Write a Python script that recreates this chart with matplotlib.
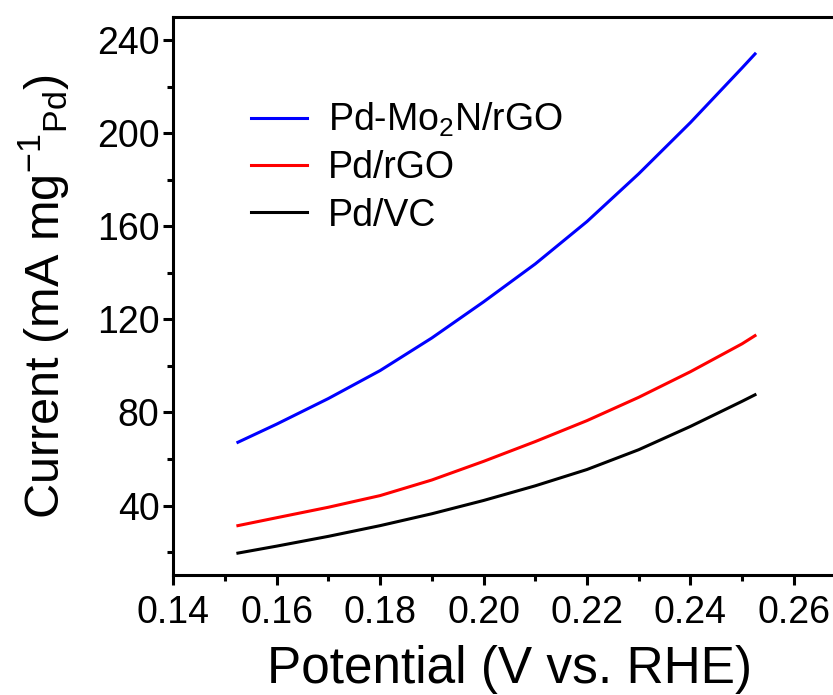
import matplotlib
matplotlib.use('Agg')
import matplotlib.pyplot as plt
from matplotlib.ticker import MultipleLocator

plt.rcParams['font.family'] = ['Liberation Sans', 'DejaVu Sans']
plt.rcParams['mathtext.fontset'] = 'custom'
plt.rcParams['mathtext.rm'] = 'Liberation Sans'
plt.rcParams['mathtext.it'] = 'Liberation Sans'
plt.rcParams['mathtext.default'] = 'regular'

# potential (V vs. RHE)
potential = [0.1525, 0.16, 0.17, 0.18, 0.19, 0.20, 0.21, 0.22, 0.23, 0.24, 0.25, 0.2525]

# mass activity (mA mg-1 Pd)
pd_mo2n_rgo = [67.2, 75.0, 86.0, 98.0, 112.0, 127.5, 143.8, 162.0, 182.5, 204.5, 228.0, 234.0]
pd_rgo = [31.4, 34.8, 39.3, 44.3, 51.0, 59.0, 67.5, 76.5, 86.5, 97.5, 109.5, 113.0]
pd_vc = [19.6, 22.6, 26.8, 31.4, 36.5, 42.2, 48.5, 55.5, 64.0, 74.0, 84.8, 87.6]

labels = ['Pd-Mo$_2$N/rGO', 'Pd/rGO', 'Pd/VC']
colors = ['#0000ff', '#ff0000', '#000000']

fig = plt.figure(figsize=(8.33, 6.95), dpi=100)
ax = fig.add_axes([0.208, 0.172, 1.015 - 0.208, 0.976 - 0.172])

for ys, lab, c in zip([pd_mo2n_rgo, pd_rgo, pd_vc], labels, colors):
    ax.plot(potential, ys, color=c, lw=2.2, label=lab)

ax.set_xlim(0.14, 0.27)
ax.set_ylim(10, 250)
ax.xaxis.set_minor_locator(MultipleLocator(0.01))
ax.yaxis.set_minor_locator(MultipleLocator(20))
ax.set_xticks([0.14, 0.16, 0.18, 0.20, 0.22, 0.24, 0.26])
ax.set_xticklabels(['0.14', '0.16', '0.18', '0.20', '0.22', '0.24', '0.26'])
ax.set_yticks([40, 80, 120, 160, 200, 240])

for s in ax.spines.values():
    s.set_linewidth(2.2)
ax.tick_params(which='major', direction='out', length=7, width=2.2, labelsize=27, pad=3)
ax.tick_params(axis='x', which='major', pad=7)
ax.tick_params(which='minor', direction='out', length=4, width=2.2)
ax.tick_params(top=False, right=False, which='both')

ax.set_xlabel('Potential (V vs. RHE)', fontsize=37, labelpad=10)
ax.set_ylabel('Current (mA mg$^{-1}$$_{Pd}$)', fontsize=35, labelpad=18)

ax.legend(loc='upper left', bbox_to_anchor=(0.065, 0.91), frameon=False,
          fontsize=27, handlelength=1.5, handletextpad=0.55, labelspacing=0.3)

fig.savefig('out.png', dpi=100)
